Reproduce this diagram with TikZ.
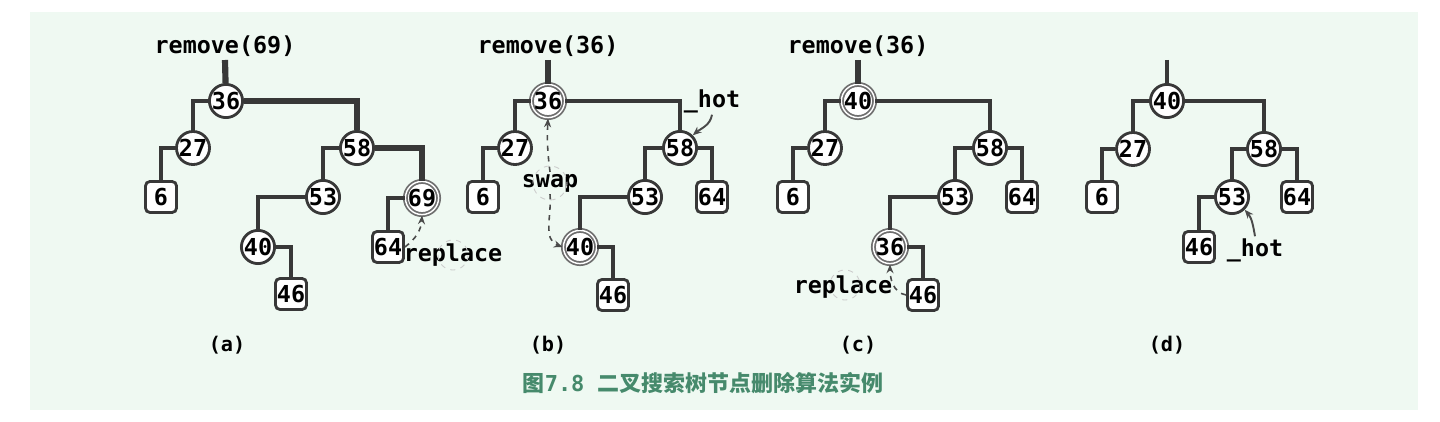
\documentclass[tikz,border=0pt]{standalone}
\usepackage{fontspec}
\setmonofont{DejaVu Sans Mono}
\newfontfamily\cjkfont{Noto Sans CJK SC}
\usetikzlibrary{arrows.meta, positioning}
\definecolor{PanelBg}{HTML}{EFF9F2}
\definecolor{LineDark}{HTML}{383838}
\definecolor{RingGray}{HTML}{6E6E6E}
\definecolor{ArrowGray}{HTML}{4A4A4A}
\definecolor{GhostGray}{HTML}{CCCCCC}
\definecolor{CaptionColor}{HTML}{468A6C}

\begin{document}
\begin{tikzpicture}[
        x=0.02cm, y=-0.02cm,
        key/.style={circle, draw=LineDark, fill=white, line width=1.6pt, minimum size=0.62cm, inner sep=0pt, font=\ttfamily\bfseries\fontsize{13.3}{13.3}\selectfont, text=black},
        hitkey/.style={key, draw=RingGray, double=white, double distance=0.8pt, line width=1pt, minimum size=0.6cm},
        leaf/.style={rectangle, rounded corners=2.5pt, draw=LineDark, fill=white, line width=1.6pt, minimum size=0.62cm, inner sep=0pt, font=\ttfamily\bfseries\fontsize{13.3}{13.3}\selectfont, text=black},
        codetext/.style={font=\ttfamily\bfseries\fontsize{13.3}{13.3}\selectfont, text=black, inner sep=1pt},
        subcap/.style={font=\ttfamily\bfseries\fontsize{11.5}{11.5}\selectfont, text=black},
        link/.style={LineDark, line width=1.8pt},
        hotlink/.style={LineDark, line width=3.5pt},
        dasharrow/.style={-{Stealth[length=5pt, width=4pt]}, dashed, ArrowGray, line width=0.9pt},
        hotarrow/.style={-{Stealth[length=5pt, width=4pt]}, ArrowGray, line width=1.1pt},
        ghost/.style={GhostGray, dashed, line width=0.5pt}
      ]
        % Panel
        \useasboundingbox (0,0) rectangle (1440,422);
        \fill[PanelBg] (30,12) rectangle (1418,410);

        % (a) remove(69)
        \coordinate (aTop) at (225,60);
        \node[codetext] (aCall) at (225,46) {remove(69)};
        \node[key] (a36) at (226,101) {36};
        \node[key] (a27) at (193,148) {27};
        \node[leaf] (a6) at (161,197) {6};
        \node[key] (a58) at (357,148) {58};
        \node[key] (a53) at (323,197) {53};
        \node[hitkey] (a69) at (422,198) {69};
        \node[key] (a40) at (258,247) {40};
        \node[leaf] (a64) at (388,247) {64};
        \node[leaf] (a46) at (291,294) {46};
        \node[codetext] (aReplace) at (453,255) {replace};

        \draw[hotlink] (aTop) -- (a36);
        \draw[link] (a36) -| (a27);
        \draw[link] (a27) -| (a6);
        \draw[hotlink] (a36) -| (a58);
        \draw[link] (a58) -| (a53);
        \draw[hotlink] (a58) -| (a69);
        \draw[link] (a53) -| (a40);
        \draw[link] (a40) -| (a46);
        \draw[link] (a69) -| (a64);
        \draw[ghost] (aReplace.center) circle (15);
        \draw[dasharrow] (a64.east) to[bend right=25] (a69.south);

        % (b) swap
        \coordinate (bTop) at (548,60);
        \node[codetext] (bCall) at (548,46) {remove(36)};
        \node[hitkey] (b36) at (548,101) {36};
        \node[key] (b27) at (515,148) {27};
        \node[leaf] (b6) at (483,197) {6};
        \node[key] (b58) at (680,148) {58};
        \node[key] (b53) at (645,197) {53};
        \node[leaf] (b64) at (712,197) {64};
        \node[hitkey] (b40) at (580,247) {40};
        \node[leaf] (b46) at (613,295) {46};
        \node[codetext] (bHot) at (712,101) {\_hot};
        \node[codetext] (bSwap) at (550,183) {swap};

        \draw[hotlink] (bTop) -- (b36);
        \draw[link] (b36) -| (b27);
        \draw[link] (b27) -| (b6);
        \draw[link] (b36) -| (b58);
        \draw[link] (b58) -| (b53);
        \draw[link] (b58) -| (b64);
        \draw[link] (b53) -| (b40);
        \draw[link] (b40) -| (b46);
        \draw[ghost] (bSwap.center) circle (17);
        \draw[dasharrow] (bSwap.north) to[bend left=5] (b36.south);
        \draw[dasharrow] (bSwap.south) to[out=-85, in=160] (b40.west);
        \draw[hotarrow] (bHot.south) to[out=-100, in=40] (b58.north east);

        % (c) replace
        \coordinate (cTop) at (858,60);
        \node[codetext] (cCall) at (858,46) {remove(36)};
        \node[hitkey] (c40) at (858,101) {40};
        \node[key] (c27) at (825,148) {27};
        \node[leaf] (c6) at (793,197) {6};
        \node[key] (c58) at (990,148) {58};
        \node[key] (c53) at (955,197) {53};
        \node[leaf] (c64) at (1022,197) {64};
        \node[hitkey] (c36) at (890,247) {36};
        \node[leaf] (c46) at (923,295) {46};
        \node[codetext] (cReplace) at (843,287) {replace};

        \draw[hotlink] (cTop) -- (c40);
        \draw[link] (c40) -| (c27);
        \draw[link] (c27) -| (c6);
        \draw[link] (c40) -| (c58);
        \draw[link] (c58) -| (c53);
        \draw[link] (c58) -| (c64);
        \draw[link] (c53) -| (c36);
        \draw[link] (c36) -| (c46);
        \draw[ghost] (845,285) circle (15);
        \draw[dasharrow] (c46.west) to[out=170, in=-90] (c36.south);

        % (d) result
        \coordinate (dTop) at (1167,60);
        \node[key] (d40) at (1167,101) {40};
        \node[key] (d27) at (1133,149) {27};
        \node[leaf] (d6) at (1102,197) {6};
        \node[key] (d58) at (1264,149) {58};
        \node[key] (d53) at (1232,197) {53};
        \node[leaf] (d64) at (1297,197) {64};
        \node[leaf] (d46) at (1199,247) {46};
        \node[codetext] (dHot) at (1255,250) {\_hot};

        \draw[link] (dTop) -- (d40);
        \draw[link] (d40) -| (d27);
        \draw[link] (d27) -| (d6);
        \draw[link] (d40) -| (d58);
        \draw[link] (d58) -| (d53);
        \draw[link] (d58) -| (d64);
        \draw[link] (d53) -| (d46);
        \draw[hotarrow] (dHot.north) to[out=100, in=-50] (d53.south east);

        % Captions
        \node[subcap] (capA) at (227,345) {(a)};
        \node[subcap] (capB) at (548,345) {(b)};
        \node[subcap] (capC) at (858,345) {(c)};
        \node[subcap] (capD) at (1167,345) {(d)};
        \node[font=\cjkfont\bfseries\fontsize{12.5}{12.5}\selectfont, text=CaptionColor] (figCap) at (703,383) {图{\ttfamily\bfseries 7.8 }二叉搜索树节点删除算法实例};
      \end{tikzpicture}
\end{document}
